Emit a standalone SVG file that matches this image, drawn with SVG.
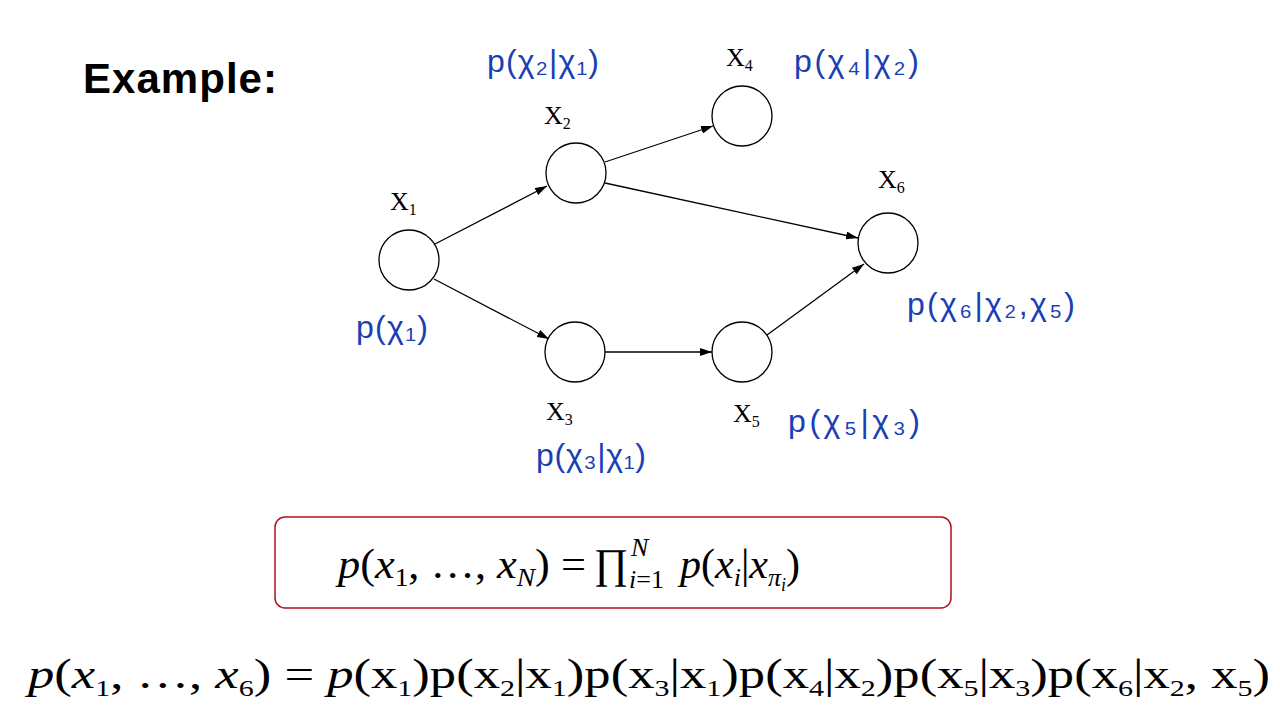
<svg xmlns="http://www.w3.org/2000/svg" width="1280" height="706" viewBox="0 0 1280 706">
<style>
.n{fill:#fff;stroke:#000;stroke-width:1.3}
.lb{font-family:"Liberation Serif",serif;font-size:26px}
.lb tspan{font-size:16px}
.hw{font-family:"Liberation Sans",sans-serif;font-size:32px;fill:#1a3fb5}
.e{stroke:#000;stroke-width:1.3;fill:none;marker-end:url(#a)}
.m{font-family:"Liberation Serif",serif;font-size:42px}
</style>
<defs><marker id="a" markerWidth="12" markerHeight="8" refX="12" refY="4" orient="auto" markerUnits="userSpaceOnUse"><path d="M0,0L12,4L0,8z"/></marker></defs>
<rect width="1280" height="706" fill="#fff"/>
<text x="83" y="93" font-family="Liberation Sans,sans-serif" font-weight="bold" font-size="42" textLength="194">Example:</text>
<g id="edges">
<line class="e" x1="435" y1="244" x2="547" y2="186"/>
<line class="e" x1="434" y1="279" x2="549" y2="339"/>
<line class="e" x1="605" y1="162" x2="713" y2="126"/>
<line class="e" x1="605" y1="183" x2="858" y2="238"/>
<line class="e" x1="605" y1="352" x2="712" y2="352"/>
<line class="e" x1="767" y1="335" x2="864" y2="264"/>
</g>
<g id="X1"><circle class="n" cx="409" cy="260" r="30"/><text class="lb" x="390" y="210">X<tspan dy="5">1</tspan></text><text class="hw" x="356" y="338" textLength="72">p(χ₁)</text></g>
<g id="X2"><circle class="n" cx="576" cy="173" r="30"/><text class="lb" x="544" y="124">X<tspan dy="5">2</tspan></text><text class="hw" x="487" y="72" textLength="112">p(χ₂|χ₁)</text></g>
<g id="X4"><circle class="n" cx="742" cy="116" r="30"/><text class="lb" x="726" y="66">X<tspan dy="5">4</tspan></text><text class="hw" x="794" y="72" textLength="125">p(χ₄|χ₂)</text></g>
<g id="X6"><circle class="n" cx="888" cy="243" r="30"/><text class="lb" x="878" y="188">X<tspan dy="5">6</tspan></text><text class="hw" x="907" y="315" textLength="168">p(χ₆|χ₂,χ₅)</text></g>
<g id="X3"><circle class="n" cx="575" cy="352" r="30"/><text class="lb" x="546" y="420">X<tspan dy="5">3</tspan></text><text class="hw" x="536" y="466" textLength="110">p(χ₃|χ₁)</text></g>
<g id="X5"><circle class="n" cx="742" cy="352" r="30"/><text class="lb" x="733" y="422">X<tspan dy="5">5</tspan></text><text class="hw" x="788" y="432" textLength="132">p(χ₅|χ₃)</text></g>
<rect x="275" y="517" width="676" height="91" rx="10" fill="none" stroke="#b0101a" stroke-width="1.5"/>
<g class="m">
<text x="338" y="578" textLength="248" lengthAdjust="spacingAndGlyphs"><tspan font-style="italic">p</tspan>(<tspan font-style="italic">x</tspan><tspan font-size="26" dy="8">1</tspan><tspan dy="-8">, …, </tspan><tspan font-style="italic">x</tspan><tspan font-size="26" dy="8" font-style="italic">N</tspan><tspan dy="-8">) =</tspan></text>
<text x="594" y="578">∏</text>
<text x="629" y="588" font-size="26"><tspan font-style="italic">i</tspan>=1</text>
<text x="631" y="556" font-size="26" font-style="italic">N</text>
<text x="680" y="578"><tspan font-style="italic">p</tspan>(<tspan font-style="italic">x</tspan><tspan font-size="26" dy="8" font-style="italic">i</tspan><tspan dy="-8">|</tspan><tspan font-style="italic">x</tspan><tspan font-size="26" dy="8" font-style="italic">π</tspan><tspan font-size="18" dy="5" font-style="italic">i</tspan><tspan dy="-13">)</tspan></text>
</g>
<text class="m" x="28" y="688" textLength="1242" lengthAdjust="spacingAndGlyphs"><tspan font-style="italic">p</tspan>(<tspan font-style="italic">x</tspan><tspan font-size="24" dy="8">1</tspan><tspan dy="-8">, …, </tspan><tspan font-style="italic">x</tspan><tspan font-size="24" dy="8">6</tspan><tspan dy="-8">) = </tspan><tspan font-style="italic">p</tspan>(x<tspan font-size="24" dy="8">1</tspan><tspan dy="-8">)p(x</tspan><tspan font-size="24" dy="8">2</tspan><tspan dy="-8">|x</tspan><tspan font-size="24" dy="8">1</tspan><tspan dy="-8">)p(x</tspan><tspan font-size="24" dy="8">3</tspan><tspan dy="-8">|x</tspan><tspan font-size="24" dy="8">1</tspan><tspan dy="-8">)p(x</tspan><tspan font-size="24" dy="8">4</tspan><tspan dy="-8">|x</tspan><tspan font-size="24" dy="8">2</tspan><tspan dy="-8">)p(x</tspan><tspan font-size="24" dy="8">5</tspan><tspan dy="-8">|x</tspan><tspan font-size="24" dy="8">3</tspan><tspan dy="-8">)p(x</tspan><tspan font-size="24" dy="8">6</tspan><tspan dy="-8">|x</tspan><tspan font-size="24" dy="8">2</tspan><tspan dy="-8">, x</tspan><tspan font-size="24" dy="8">5</tspan><tspan dy="-8">)</tspan></text>
</svg>
